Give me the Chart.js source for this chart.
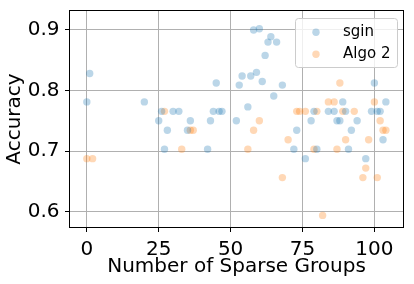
<!DOCTYPE html>
<html>
<head>
<meta charset="utf-8">
<script src="https://cdn.jsdelivr.net/npm/chart.js@4/dist/chart.umd.min.js"></script>
<style>
html,body{margin:0;padding:0;background:#fff;}
#wrap{width:414px;height:284px;}
</style>
</head>
<body>
<div id="wrap"><canvas id="c" width="414" height="284"></canvas></div>
<script>
// ---- data ----
const sginX = [0, 1, 20, 25, 26, 27, 28, 30, 32, 35, 36, 42, 43, 44, 45, 46, 47, 52, 53, 54, 56, 57, 58, 59, 60, 61, 62, 63, 64, 65, 66, 68, 72, 73, 76, 78, 79, 80, 84, 86, 87, 88, 89, 90, 91, 92, 94, 97, 99, 100, 101, 102, 103, 104];
const sginY = [0.7812, 0.8281, 0.7812, 0.7500, 0.7656, 0.7031, 0.7344, 0.7656, 0.7656, 0.7344, 0.7500, 0.7031, 0.7500, 0.7656, 0.8125, 0.7656, 0.7656, 0.7500, 0.809, 0.824, 0.773, 0.824, 0.900, 0.830, 0.902, 0.815, 0.858, 0.880, 0.889, 0.791, 0.880, 0.809, 0.7031, 0.7344, 0.6875, 0.7500, 0.7656, 0.7031, 0.7656, 0.7656, 0.7500, 0.7500, 0.7812, 0.7656, 0.7031, 0.7344, 0.7500, 0.6875, 0.7656, 0.8125, 0.7656, 0.7656, 0.7188, 0.7812];
const algoX = [0, 2, 27, 33, 36, 37, 56, 58, 60, 68, 70, 73, 74, 76, 79, 80, 82, 84, 86, 87, 88, 89, 90, 93, 96, 97, 98, 100, 101, 102, 103, 104];
const algoY = [0.6875, 0.6875, 0.7656, 0.7031, 0.7344, 0.7344, 0.7031, 0.7344, 0.7500, 0.6562, 0.7188, 0.7656, 0.7656, 0.7656, 0.7031, 0.7656, 0.5938, 0.7812, 0.7812, 0.7031, 0.8125, 0.7656, 0.7188, 0.7656, 0.6562, 0.6719, 0.7188, 0.7812, 0.6562, 0.7500, 0.7344, 0.7344];
const seriesNames = ['sgin', 'Algo 2'];
const xTicks = [0, 25, 50, 75, 100];
const yTicks = [0.6, 0.7, 0.8, 0.9];
const xTitle = 'Number of Sparse Groups';
const yTitle = 'Accuracy';

const blueFill = 'rgba(31,119,180,0.3)';
const orangeFill = 'rgba(255,127,14,0.3)';
const FONT = "'DejaVu Sans', sans-serif";

function pts(xs, ys) { return xs.map((x, i) => ({x: x, y: ys[i]})); }

const framePlugin = {
  id: 'frameLegend',
  afterDraw(chart) {
    const {ctx, chartArea: a} = chart;
    ctx.save();
    ctx.strokeStyle = '#000';
    ctx.lineWidth = 1;
    ctx.strokeRect(Math.round(a.left) + 0.5, Math.round(a.top) + 0.5,
                   Math.round(a.right - a.left) - 1, Math.round(a.bottom - a.top) - 1);
    // legend box (matplotlib style, upper right)
    const bx = 295.5, by = 18.5, bw = 102, bh = 49, r = 3;
    ctx.beginPath();
    ctx.moveTo(bx + r, by);
    ctx.lineTo(bx + bw - r, by); ctx.arcTo(bx + bw, by, bx + bw, by + r, r);
    ctx.lineTo(bx + bw, by + bh - r); ctx.arcTo(bx + bw, by + bh, bx + bw - r, by + bh, r);
    ctx.lineTo(bx + r, by + bh); ctx.arcTo(bx, by + bh, bx, by + bh - r, r);
    ctx.lineTo(bx, by + r); ctx.arcTo(bx, by, bx + r, by, r);
    ctx.closePath();
    ctx.fillStyle = 'rgba(255,255,255,0.8)';
    ctx.fill();
    ctx.strokeStyle = '#cccccc';
    ctx.stroke();
    const rows = [32.3, 54.3];
    chart.data.datasets.forEach((ds, i) => {
      ctx.beginPath();
      ctx.arc(316, rows[i], 3.7, 0, Math.PI * 2);
      ctx.fillStyle = ds.backgroundColor;
      ctx.fill();
      ctx.font = '15px ' + FONT;
      ctx.fillStyle = '#000';
      ctx.textBaseline = 'middle';
      ctx.textAlign = 'left';
      ctx.fillText(ds.label, 343, rows[i]);
    });
    ctx.restore();
  }
};

new Chart(document.getElementById('c'), {
  type: 'scatter',
  data: {
    datasets: [
      {label: seriesNames[0], data: pts(sginX, sginY), backgroundColor: blueFill, borderColor: blueFill, borderWidth: 0, pointRadius: 3.7},
      {label: seriesNames[1], data: pts(algoX, algoY), backgroundColor: orangeFill, borderColor: orangeFill, borderWidth: 0, pointRadius: 3.7}
    ]
  },
  options: {
    responsive: false,
    devicePixelRatio: 1,
    animation: false,
    layout: {padding: {left: 0, right: 10, top: 10, bottom: 0}},
    plugins: {legend: {display: false}, tooltip: {enabled: false}},
    scales: {
      x: {
        type: 'linear', min: -6.2, max: 110.3,
        afterBuildTicks(s) { s.ticks = xTicks.map(v => ({value: v})); },
        afterFit(s) { s.height = 56; s.paddingLeft = 0; s.paddingRight = 0; },
        grid: {color: '#b0b0b0', tickColor: '#000', tickLength: 4, drawTicks: true},
        border: {display: false},
        ticks: {color: '#000', font: {family: FONT, size: 20}, padding: 6, maxRotation: 0, autoSkip: false,
                callback: v => String(v)},
        title: {display: true, text: xTitle, color: '#000', font: {family: FONT, size: 20}, padding: {top: 0, bottom: 5}}
      },
      y: {
        type: 'linear', min: 0.573, max: 0.933,
        afterBuildTicks(s) { s.ticks = yTicks.map(v => ({value: v})); },
        afterFit(s) { s.width = 69; s.paddingTop = 0; s.paddingBottom = 0; },
        grid: {color: '#b0b0b0', tickColor: '#000', tickLength: 4, drawTicks: true},
        border: {display: false},
        ticks: {color: '#000', font: {family: FONT, size: 20}, padding: 5.5, autoSkip: false,
                callback: v => v.toFixed(1)},
        title: {display: true, text: yTitle, color: '#000', font: {family: FONT, size: 20}, padding: {top: 3, bottom: 0}}
      }
    }
  },
  plugins: [framePlugin]
});
</script>
</body>
</html>
